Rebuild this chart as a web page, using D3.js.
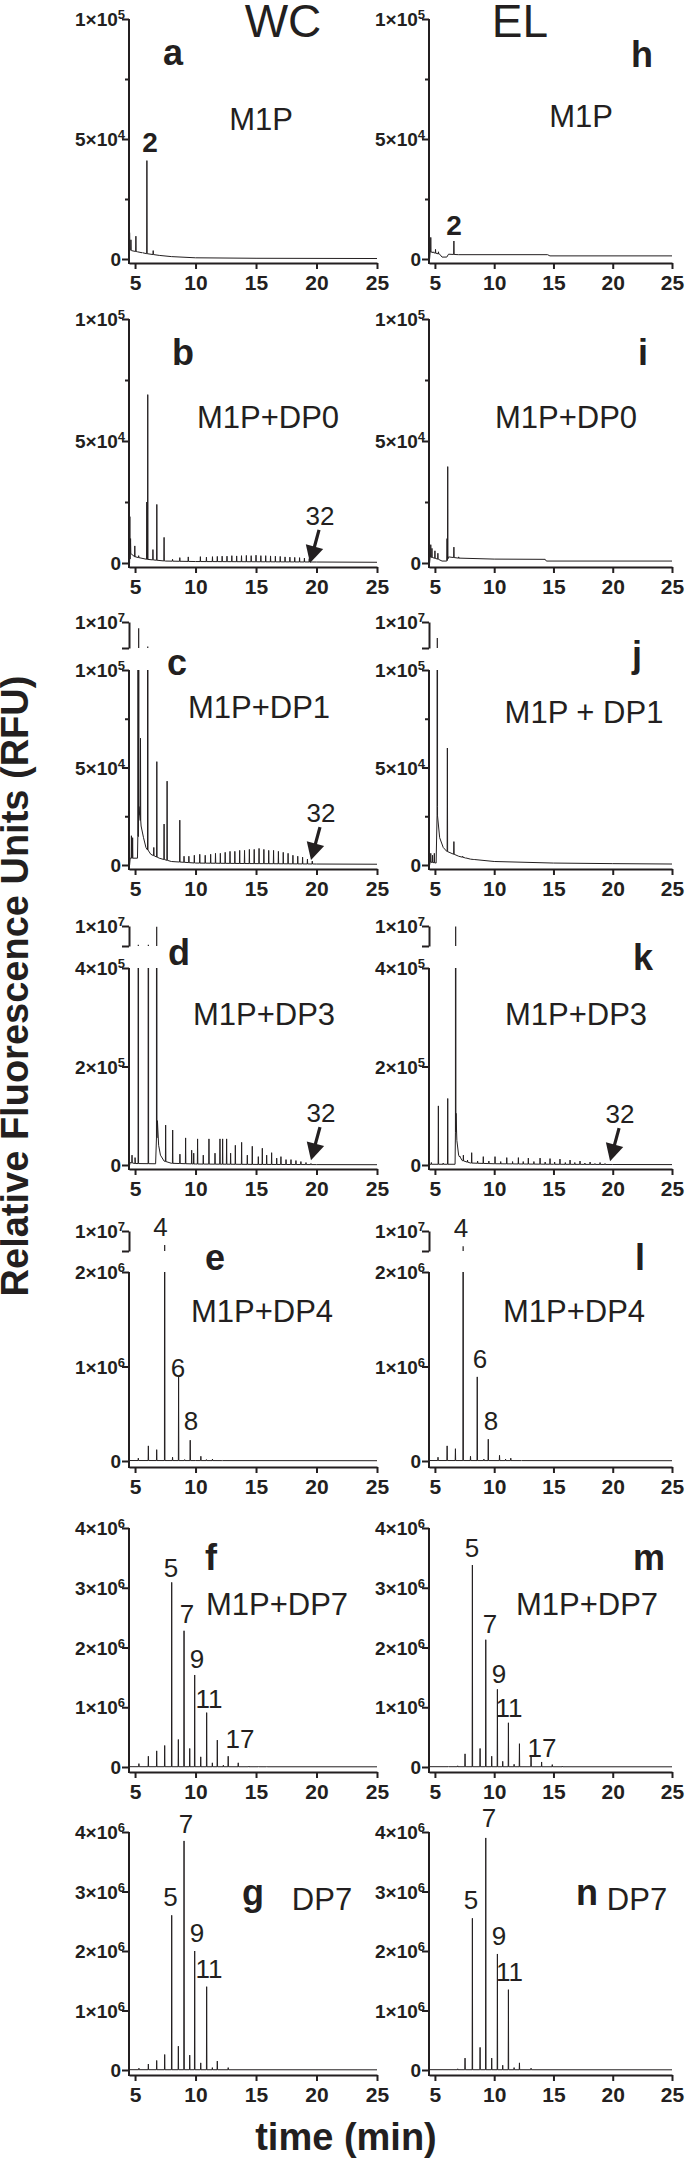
<!DOCTYPE html>
<html>
<head>
<meta charset="utf-8">
<script src="https://cdn.jsdelivr.net/npm/d3@7"></script>
<style>
  body { margin: 0; background: #fff; }
  svg  { display: block; font-family: "Liberation Sans", Arial, Helvetica, sans-serif; }
</style>
</head>
<body>
<svg id="chart" width="685" height="2172"></svg>
<script>
/* ══════════════════════════════════════════════════════
   Capillary electrophoresis traces, WC vs EL, panels a–n
   Each trace = baseline points + narrow peaks [time, RFU]
══════════════════════════════════════════════════════ */

// ── Shared axes ──────────────────────────────────────
const X_DOMAIN   = [4.5, 25];
const X_TICKS    = [5, 10, 15, 20, 25];
const UPPER_DOM  = [5e6, 1e7];           // upper piece of the broken axes
const TICKS_1E5  = [0, 5e4, 1e5];
const MINOR_1E5  = [2.5e4, 7.5e4];
const TICKS_4E5  = [0, 2e5, 4e5];
const TICKS_2E6  = [0, 1e6, 2e6];
const TICKS_4E6  = [0, 1e6, 2e6, 3e6, 4e6];

// ── a / h : M1P ──────────────────────────────────────
const aBase  = [[4.5,0],[4.55,4000],[4.7,3500],[5.2,3000],[6.0,2200],[7.0,1500],[8.0,1000],[10,500],[15,300],[25,200]];
const aPeaks = [[4.55,11000],[4.66,8000],[5.07,9500],[5.6,2500],[5.98,41000],[6.5,3500]];
const aLabels = [{ text: '2', t: 6.24, v: 44600, bold: true }];

const hBase  = [[4.55,0],[4.6,3000],[5.4,2000],[5.6,800],[6.0,800],[6.15,2000],[7,1800],[14.5,1800],[14.7,1300],[25,1300]];
const hPeaks = [[4.65,9000],[4.85,3000],[5.05,4000],[5.3,3000],[6.6,7500]];
const hLabels = [{ text: '2', t: 6.61, v: 10000, bold: true }];

// ── b / i : M1P+DP0 ──────────────────────────────────
const bBase  = [[4.55,0],[4.6,4000],[5.0,2500],[6.0,1500],[7.5,800],[10,600],[20,400],[25,300]];
const bPeaks = [[4.57,19000],[4.63,10000],[4.98,7000],[5.3,3000],[5.97,25000],[6.05,69000],[6.48,5500],[6.8,24000],[7.4,10500],
  [8.1,1500],[8.7,2200],[9.4,2500],[10.4,2600],[10.9,2400],[11.4,2600],[11.8,2700],[12.2,2800],[12.6,2800],[13.0,3000],
  [13.4,2900],[13.8,3000],[14.2,3100],[14.6,3000],[15.0,3200],[15.4,3000],[15.8,3000],[16.2,2900],[16.6,2800],[17.0,2700],
  [17.4,2500],[17.8,2400],[18.2,2300],[18.6,2200],[19.0,2000],[19.4,1800]];
const bLabels = [{ text: '32', t: 20.29, v: 15600, arrow: true }];

const iBase  = [[4.55,0],[4.6,2500],[5.3,1500],[5.6,800],[6.0,800],[6.15,2500],[7,2000],[10,1600],[14.3,1500],[14.4,800],[25,800]];
const iPeaks = [[4.65,7500],[4.75,6000],[5.0,5000],[5.25,4000],[6.02,10000],[6.08,39500],[6.6,6500],[7.0,2500]];
const iLabels = [];

// ── c / j : M1P+DP1 ──────────────────────────────────
const cBase  = [[4.55,0],[4.6,3500],[5.2,3500],[5.32,30000],[5.5,20000],[5.7,14000],[5.9,9000],[6.3,5500],[7.0,3500],[8.0,1800],[10,1000],[15,700],[20,500],[25,400]];
const cPeaks = [[4.7,15000],[4.8,14000],[5.25,3e6],[5.3,8.8e6],[5.45,65000],[6.05,5.3e6],[6.55,9000],[6.8,53000],[7.4,21000],[7.65,43000],[8.7,23000],
  [9.05,4500],[9.45,4500],[9.9,5000],[10.35,5500],[10.8,5000],[11.25,5500],[11.65,6000],[12.05,6000],[12.45,6500],[12.85,7000],
  [13.25,7000],[13.65,7500],[14.05,7500],[14.45,8000],[14.85,8000],[15.25,8500],[15.65,8000],[16.05,7500],[16.45,7500],[16.85,7000],
  [17.25,6500],[17.65,6000],[18.05,5000],[18.45,4500],[18.85,4000],[19.25,3000],[19.65,2000]];
const cLabels = [{ text: '32', t: 20.37, v: 22000, arrow: true }];

const jBase  = [[4.55,0],[4.6,1500],[5.1,1000],[5.22,30000],[5.4,14000],[5.7,9000],[6.0,7000],[7,4500],[8,3000],[10,1800],[15,1000],[20,700],[25,500]];
const jPeaks = [[4.65,6000],[4.8,5000],[4.95,6000],[5.2,6.9e6],[6.05,60000],[6.6,12000],[7.34,4500],[7.6,3500],[8.3,3000]];
const jLabels = [];

// ── d / k : M1P+DP3 ──────────────────────────────────
const dBase  = [[4.55,0],[4.6,5000],[5.0,3000],[6.7,2500],[6.85,90000],[6.95,40000],[7.1,20000],[7.4,8000],[8,3500],[10,2000],[15,1200],[20,800],[25,600]];
const dPeaks = [[4.75,20000],[5.0,15000],[5.27,5.3e6],[6.1,5.3e6],[6.79,9.8e6],[7.53,81000],[8.11,71000],[8.71,22000],[9.18,55000],
  [9.68,30000],[9.85,24000],[10.17,53000],[10.64,20000],[11.11,53000],[11.61,24000],[12.02,53000],[12.24,53000],[12.57,53000],
  [12.9,24000],[13.29,40000],[13.81,46000],[14.28,20000],[14.69,38000],[15.19,17000],[15.52,34000],[15.88,20000],[16.29,25000],
  [16.71,14000],[17.06,17000],[17.48,11000],[17.89,11000],[18.3,9000],[18.71,7000],[19.13,5000],[19.54,3000]];
const dLabels = [{ text: '32', t: 20.37, v: 87000, arrow: true }];

const kBase  = [[4.55,0],[4.6,1500],[6.7,1500],[6.78,105000],[6.85,50000],[7.0,20000],[7.3,9000],[8,4000],[10,2500],[15,1500],[20,1000],[25,800]];
const kPeaks = [[4.7,5000],[5.29,120000],[5.7,4000],[6.08,135000],[6.75,9.9e6],[7.1,18000],[7.4,20000],[7.75,10000],[8.1,25000],
  [8.6,8000],[9.08,17000],[9.55,8000],[10.07,17000],[10.55,7000],[11.06,15000],[11.55,7000],[12.04,15000],[12.45,7000],
  [12.88,14000],[13.35,7000],[13.87,14000],[14.3,6000],[14.71,13000],[15.1,6000],[15.55,12000],[16.0,5000],[16.4,10000],
  [16.8,5000],[17.24,8000],[17.65,4000],[18.09,6000],[18.5,3000],[18.93,5000],[19.35,3000]];
const kLabels = [{ text: '32', t: 20.62, v: 85000, arrow: true }];

// ── e / l : M1P+DP4 ──────────────────────────────────
const eBase  = [[4.5,5000],[25,3000]];
const ePeaks = [[5.27,30000],[6.1,160000],[6.79,120000],[7.45,6.5e6],[8.1,40000],[8.6,890000],[9.1,15000],[9.56,220000],
  [10.0,10000],[10.44,50000],[10.9,15000],[11.4,20000],[12.2,5000]];
const eLabels = [{ text: '4', t: 7.1, v: 2.38e6 }, { text: '6', t: 8.55, v: 8.9e5 }, { text: '8', t: 9.62, v: 3.3e5 }];

const lBase  = [[4.5,5000],[25,3000]];
const lPeaks = [[5.26,40000],[6.03,160000],[6.73,130000],[7.38,6.2e6],[8.0,50000],[8.57,890000],[9.13,20000],[9.5,230000],
  [10.45,60000],[10.96,20000],[11.4,30000],[12.3,5000]];
const lLabels = [{ text: '4', t: 7.2, v: 2.37e6 }, { text: '6', t: 8.8, v: 9.8e5 }, { text: '8', t: 9.73, v: 3.3e5 }];

// ── f / m : M1P+DP7 ──────────────────────────────────
const fBase  = [[4.5,5000],[25,3000]];
const fPeaks = [[5.32,56000],[6.1,180000],[6.79,270000],[7.45,360000],[8.03,3.09e6],[8.58,460000],[9.05,2.28e6],[9.52,310000],
  [9.93,1.54e6],[10.43,170000],[10.92,910000],[11.39,70000],[11.8,450000],[12.3,30000],[12.7,180000],[13.53,70000],
  [14.4,15000],[15.2,10000],[15.9,10000]];
const fLabels = [{ text: '5', t: 7.97, v: 3.18e6 }, { text: '7', t: 9.29, v: 2.41e6 }, { text: '9', t: 10.12, v: 1.66e6 },
  { text: '11', t: 11.11, v: 9.9e5 }, { text: '17', t: 13.67, v: 3.2e5 }];

const mBase  = [[4.5,5000],[25,3000]];
const mPeaks = [[6.13,10000],[6.92,20000],[7.54,220000],[8.16,3.38e6],[8.81,310000],[9.29,2.13e6],[9.79,180000],[10.27,1.3e6],
  [10.72,95000],[11.2,740000],[11.68,45000],[12.13,390000],[13.11,200000],[14.0,84000],[14.9,40000],[15.75,15000]];
const mLabels = [{ text: '5', t: 8.13, v: 3.51e6 }, { text: '7', t: 9.65, v: 2.24e6 }, { text: '9', t: 10.4, v: 1.41e6 },
  { text: '11', t: 11.25, v: 8.4e5 }, { text: '17', t: 14.03, v: 1.7e5 }];

// ── g / n : DP7 ──────────────────────────────────────
const gBase  = [[4.5,5000],[25,3000]];
const gPeaks = [[5.32,30000],[6.1,100000],[6.79,160000],[7.45,260000],[8.03,2.6e6],[8.58,400000],[9.05,3.85e6],[9.52,250000],
  [9.93,2.0e6],[10.43,120000],[10.92,1.4e6],[11.39,40000],[11.8,150000],[12.7,40000]];
const gLabels = [{ text: '7', t: 9.21, v: 3.98e6 }, { text: '5', t: 7.92, v: 2.75e6 }, { text: '9', t: 10.12, v: 2.15e6 },
  { text: '11', t: 11.11, v: 1.55e6 }];

const nBase  = [[4.5,5000],[25,3000]];
const nPeaks = [[6.92,20000],[7.54,200000],[8.16,2.55e6],[8.81,380000],[9.29,3.9e6],[9.79,200000],[10.27,1.95e6],[10.72,80000],
  [11.2,1.35e6],[11.68,40000],[12.13,120000],[13.11,30000]];
const nLabels = [{ text: '7', t: 9.56, v: 4.08e6 }, { text: '5', t: 8.05, v: 2.7e6 }, { text: '9', t: 10.4, v: 2.1e6 },
  { text: '11', t: 11.3, v: 1.5e6 }];

// ── Layout (pixels) ──────────────────────────────────
const COLS = [{ axis: 129, right: 377 }, { axis: 429, right: 672 }];
const ROWS = [
  { top: 19,   zero: 259,  gap: 4 },
  { top: 319,  zero: 563,  gap: 4 },
  { top: 670,  zero: 865,  gap: 4, uTop: 622,  uBottom: 648 },
  { top: 968,  zero: 1165, gap: 4, uTop: 926,  uBottom: 946 },
  { top: 1272, zero: 1461, gap: 6, uTop: 1231, uBottom: 1251 },
  { top: 1528, zero: 1767, gap: 5 },
  { top: 1832, zero: 2070, gap: 5 },
];

const PANELS = [
  { key: 'a', col: 0, row: 0, title: 'M1P',       yMax: 1e5, ticks: TICKS_1E5, minor: MINOR_1E5, base: aBase, peaks: aPeaks, labels: aLabels, letterAt: [173, 65],   titleAt: [261, 130] },
  { key: 'h', col: 1, row: 0, title: 'M1P',       yMax: 1e5, ticks: TICKS_1E5, minor: MINOR_1E5, base: hBase, peaks: hPeaks, labels: hLabels, letterAt: [642, 67],   titleAt: [581, 127] },
  { key: 'b', col: 0, row: 1, title: 'M1P+DP0',   yMax: 1e5, ticks: TICKS_1E5, minor: MINOR_1E5, base: bBase, peaks: bPeaks, labels: bLabels, letterAt: [183, 365],  titleAt: [268, 428] },
  { key: 'i', col: 1, row: 1, title: 'M1P+DP0',   yMax: 1e5, ticks: TICKS_1E5, minor: MINOR_1E5, base: iBase, peaks: iPeaks, labels: iLabels, letterAt: [643, 365],  titleAt: [566, 428] },
  { key: 'c', col: 0, row: 2, title: 'M1P+DP1',   yMax: 1e5, ticks: TICKS_1E5, minor: MINOR_1E5, base: cBase, peaks: cPeaks, labels: cLabels, letterAt: [177, 675],  titleAt: [259, 718] },
  { key: 'j', col: 1, row: 2, title: 'M1P + DP1', yMax: 1e5, ticks: TICKS_1E5, minor: MINOR_1E5, base: jBase, peaks: jPeaks, labels: jLabels, letterAt: [637, 667],  titleAt: [584, 723] },
  { key: 'd', col: 0, row: 3, title: 'M1P+DP3',   yMax: 4e5, ticks: TICKS_4E5, minor: [],        base: dBase, peaks: dPeaks, labels: dLabels, letterAt: [179, 965],  titleAt: [264, 1025] },
  { key: 'k', col: 1, row: 3, title: 'M1P+DP3',   yMax: 4e5, ticks: TICKS_4E5, minor: [],        base: kBase, peaks: kPeaks, labels: kLabels, letterAt: [643, 970],  titleAt: [576, 1025] },
  { key: 'e', col: 0, row: 4, title: 'M1P+DP4',   yMax: 2e6, ticks: TICKS_2E6, minor: [],        base: eBase, peaks: ePeaks, labels: eLabels, letterAt: [215, 1270], titleAt: [262, 1322] },
  { key: 'l', col: 1, row: 4, title: 'M1P+DP4',   yMax: 2e6, ticks: TICKS_2E6, minor: [],        base: lBase, peaks: lPeaks, labels: lLabels, letterAt: [640, 1270], titleAt: [574, 1322] },
  { key: 'f', col: 0, row: 5, title: 'M1P+DP7',   yMax: 4e6, ticks: TICKS_4E6, minor: [],        base: fBase, peaks: fPeaks, labels: fLabels, letterAt: [211, 1570], titleAt: [277, 1615] },
  { key: 'm', col: 1, row: 5, title: 'M1P+DP7',   yMax: 4e6, ticks: TICKS_4E6, minor: [],        base: mBase, peaks: mPeaks, labels: mLabels, letterAt: [649, 1570], titleAt: [587, 1615] },
  { key: 'g', col: 0, row: 6, title: 'DP7',       yMax: 4e6, ticks: TICKS_4E6, minor: [],        base: gBase, peaks: gPeaks, labels: gLabels, letterAt: [253, 1905], titleAt: [322, 1910] },
  { key: 'n', col: 1, row: 6, title: 'DP7',       yMax: 4e6, ticks: TICKS_4E6, minor: [],        base: nBase, peaks: nPeaks, labels: nLabels, letterAt: [587, 1905], titleAt: [637, 1910] },
];

const INK  = '#231f20';
const FONT = '"Liberation Sans", Arial, Helvetica, sans-serif';
const PEAK_HALF = 0.02;   // half width of a peak, minutes

// ── Helpers ──────────────────────────────────────────

// baseline level under a peak (linear between the read baseline points)
function baseAt(base, t) {
  const i = d3.bisector(d => d[0]).right(base, t);
  if (i <= 0) return base[0][1];
  if (i >= base.length) return base[base.length - 1][1];
  const [t0, v0] = base[i - 1], [t1, v1] = base[i];
  return v0 + (v1 - v0) * (t - t0) / (t1 - t0);
}

function tracePoints(base, peaks) {
  const pts = base.map(d => [d[0], d[1]]);
  peaks.forEach(([t, h]) => {
    const b = baseAt(base, t);
    pts.push([t - PEAK_HALF, b], [t, h], [t + PEAK_HALF, b]);
  });
  return pts.sort((p, q) => p[0] - q[0]);
}

function sciLabel(text, v) {
  text.text(null);
  if (v === 0) { text.text('0'); return; }
  const e = Math.floor(Math.log10(v) + 1e-9);
  const m = Math.round(v / Math.pow(10, e));
  text.append('tspan').text(`${m}×10`);
  text.append('tspan').attr('dy', -7).attr('font-size', 13).text(e);
}

function styleAxis(g) {
  g.attr('font-family', FONT).attr('font-weight', 'bold').attr('fill', INK);
  g.selectAll('.domain').attr('stroke', INK).attr('stroke-width', 2);
  g.selectAll('.tick line').attr('stroke', INK).attr('stroke-width', 2);
  g.selectAll('.tick text').attr('fill', INK);
}

function yTickLabels(g) {
  g.selectAll('.tick text').each(function(d) {
    const t = d3.select(this);
    sciLabel(t, d);
    t.attr('x', d === 0 ? -8 : -4).attr('dy', '0.35em').attr('font-size', 19);
  });
}

// ── Draw ─────────────────────────────────────────────

const svg  = d3.select('#chart');
const defs = svg.append('defs');

PANELS.forEach(p => {
  const col = COLS[p.col];
  const row = ROWS[p.row];
  const x = d3.scaleLinear().domain(X_DOMAIN).range([col.axis, col.right]);
  const y = d3.scaleLinear().domain([0, p.yMax]).range([row.zero, row.top]);
  const axisY = row.zero + row.gap;
  const g = svg.append('g').attr('class', `panel panel-${p.key}`);

  // trace, clipped to the lower plot box
  const clipId = `clip-${p.key}`;
  defs.append('clipPath').attr('id', clipId).append('rect')
    .attr('x', col.axis).attr('y', row.top)
    .attr('width', col.right - col.axis + 1).attr('height', axisY - row.top);

  g.append('path')
    .datum(tracePoints(p.base, p.peaks))
    .attr('clip-path', `url(#${clipId})`)
    .attr('fill', 'none')
    .attr('stroke', INK)
    .attr('stroke-width', 1)
    .attr('stroke-linejoin', 'round')
    .attr('d', d3.line().x(d => x(d[0])).y(d => y(d[1])));

  // upper piece of a broken axis
  if (row.uTop != null) {
    const yu = d3.scaleLinear().domain(UPPER_DOM).range([row.uBottom, row.uTop]);
    g.append('g').selectAll('line')
      .data(p.peaks.filter(d => d[1] > UPPER_DOM[0]))
      .join('line')
        .attr('x1', d => x(d[0])).attr('x2', d => x(d[0]))
        .attr('y1', yu(UPPER_DOM[0]))
        .attr('y2', d => yu(Math.min(d[1], UPPER_DOM[1])))
        .attr('stroke', INK)
        .attr('stroke-width', 1.2);

    const gu = g.append('g').attr('transform', `translate(${col.axis},0)`)
      .call(d3.axisLeft(yu).tickValues(UPPER_DOM).tickSize(7).tickSizeOuter(0).tickFormat(''));
    styleAxis(gu);
    yTickLabels(gu);
    gu.selectAll('.tick text').filter(d => d !== UPPER_DOM[1]).text(null);
  }

  // y axis (lower piece), line runs down to the x axis
  const gy = g.append('g').attr('transform', `translate(${col.axis},0)`)
    .call(d3.axisLeft(y).tickValues(p.ticks).tickSize(7).tickSizeOuter(0).tickFormat(''));
  gy.select('.domain').remove();
  styleAxis(gy);
  yTickLabels(gy);
  g.append('line')
    .attr('x1', col.axis).attr('x2', col.axis)
    .attr('y1', row.top).attr('y2', axisY + 1)
    .attr('stroke', INK).attr('stroke-width', 2);

  if (p.minor.length) {
    const gm = g.append('g').attr('transform', `translate(${col.axis},0)`)
      .call(d3.axisLeft(y).tickValues(p.minor).tickSize(4).tickFormat(''));
    gm.select('.domain').remove();
    styleAxis(gm);
  }

  // x axis
  const gx = g.append('g').attr('transform', `translate(0,${axisY})`)
    .call(d3.axisBottom(x).tickValues(X_TICKS).tickSize(6).tickSizeOuter(0).tickPadding(6));
  styleAxis(gx);
  gx.selectAll('.tick text').attr('font-size', 21);

  // panel letter and sample name
  g.append('text')
    .attr('x', p.letterAt[0]).attr('y', p.letterAt[1])
    .attr('text-anchor', 'middle')
    .attr('font-size', 36).attr('font-weight', 'bold').attr('fill', INK)
    .text(p.key);

  g.append('text')
    .attr('x', p.titleAt[0]).attr('y', p.titleAt[1])
    .attr('text-anchor', 'middle')
    .attr('font-size', 31).attr('fill', INK)
    .text(p.title);

  // peak annotations
  p.labels.forEach(lab => {
    const lx = x(lab.t), ly = y(lab.v);
    g.append('text')
      .attr('x', lx).attr('y', ly)
      .attr('text-anchor', 'middle')
      .attr('font-size', lab.bold ? 28 : 26)
      .attr('font-weight', lab.bold ? 'bold' : 'normal')
      .attr('fill', INK)
      .text(lab.text);

    if (lab.arrow) {
      const s = [lx - 1, ly + 5];
      const tip = [lx - 10, ly + 38];
      const len = Math.hypot(tip[0] - s[0], tip[1] - s[1]);
      const ux = (tip[0] - s[0]) / len, uy = (tip[1] - s[1]) / len;
      const head = 17, half = 9;
      const bx = tip[0] - ux * head, by = tip[1] - uy * head;
      g.append('line')
        .attr('x1', s[0]).attr('y1', s[1]).attr('x2', bx + ux * 2).attr('y2', by + uy * 2)
        .attr('stroke', INK).attr('stroke-width', 3.2);
      g.append('path')
        .attr('d', `M${tip[0]},${tip[1]}L${bx - uy * half},${by + ux * half}L${bx + uy * half},${by - ux * half}Z`)
        .attr('fill', INK);
    }
  });
});

// ── Column headers and axis titles ───────────────────
svg.append('text').attr('x', 283).attr('y', 37).attr('text-anchor', 'middle')
  .attr('font-size', 46).attr('fill', INK).text('WC');
svg.append('text').attr('x', 520).attr('y', 37).attr('text-anchor', 'middle')
  .attr('font-size', 46).attr('fill', INK).text('EL');

svg.append('text')
  .attr('transform', 'translate(28,986) rotate(-90)')
  .attr('text-anchor', 'middle')
  .attr('font-size', 38).attr('font-weight', 'bold').attr('fill', INK)
  .text('Relative Fluorescence Units (RFU)');

svg.append('text')
  .attr('x', 346).attr('y', 2150)
  .attr('text-anchor', 'middle')
  .attr('font-size', 38).attr('font-weight', 'bold').attr('fill', INK)
  .text('time (min)');
</script>
</body>
</html>
